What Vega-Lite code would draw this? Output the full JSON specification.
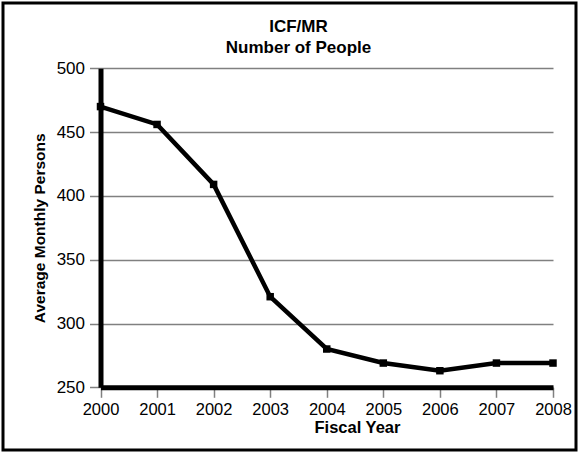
{
  "$schema": "https://vega.github.io/schema/vega-lite/v6.json",
  "width": 573,
  "height": 447,
  "autosize": "none",
  "padding": 3,
  "background": "white",
  "config": {
    "view": {"stroke": "black", "strokeWidth": 3},
    "font": "Liberation Sans"
  },
  "title": {
    "text": ["ICF/MR", "Number of People"],
    "anchor": "middle",
    "frame": "group",
    "offset": -54,
    "dx": 9,
    "fontSize": 17,
    "fontWeight": "bold",
    "lineHeight": 21,
    "color": "black",
    "font": "Liberation Sans"
  },
  "data": {
    "values": [
      {"year": 2000, "persons": 470},
      {"year": 2001, "persons": 456},
      {"year": 2002, "persons": 409},
      {"year": 2003, "persons": 321},
      {"year": 2004, "persons": 280},
      {"year": 2005, "persons": 269},
      {"year": 2006, "persons": 263},
      {"year": 2007, "persons": 269},
      {"year": 2008, "persons": 269}
    ]
  },
  "encoding": {
    "x": {
      "field": "year",
      "type": "quantitative",
      "scale": {"domain": [2000, 2008], "range": [97.5, 550], "nice": false, "zero": false},
      "axis": {
        "values": [2000, 2001, 2002, 2003, 2004, 2005, 2006, 2007, 2008],
        "format": "d",
        "title": "Fiscal Year",
        "offset": -62.7,
        "grid": false,
        "domainColor": "black",
        "domainWidth": 5,
        "tickColor": "#808080",
        "tickWidth": 1.5,
        "tickSize": 10,
        "labelFontSize": 16.5,
        "labelColor": "black",
        "labelPadding": 4,
        "labelFlush": false,
        "labelOverlap": false,
        "titleFontSize": 16.5,
        "titleFontWeight": "bold",
        "titleColor": "black",
        "titlePadding": 2,
        "titleX": 354
      }
    },
    "y": {
      "field": "persons",
      "type": "quantitative",
      "scale": {"domain": [250, 500], "range": [384.3, 65.3], "nice": false, "zero": false},
      "axis": {
        "values": [250, 300, 350, 400, 450, 500],
        "title": "Average Monthly Persons",
        "offset": -97.5,
        "grid": true,
        "gridColor": "#808080",
        "gridWidth": 1.5,
        "domainColor": "black",
        "domainWidth": 5,
        "tickColor": "#808080",
        "tickWidth": 1.5,
        "tickSize": 11,
        "labelFontSize": 17,
        "labelColor": "black",
        "labelPadding": 5,
        "labelOverlap": false,
        "titleFontSize": 15.5,
        "titleFontWeight": "bold",
        "titleColor": "black",
        "titlePadding": 9
      }
    }
  },
  "layer": [
    {"mark": {"type": "line", "color": "black", "strokeWidth": 4.5}},
    {"mark": {"type": "point", "shape": "square", "filled": true, "size": 56, "color": "black", "opacity": 1}}
  ]
}
